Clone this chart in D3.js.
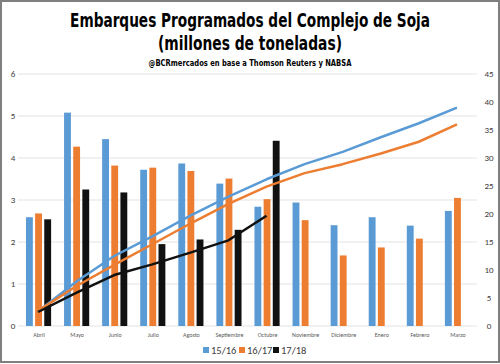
<!DOCTYPE html>
<html>
<head>
<meta charset="utf-8">
<script src="https://cdn.jsdelivr.net/npm/d3@7"></script>
<style>
  body { margin: 0; background: #fff; }
  svg { display: block; }
</style>
</head>
<body>
<svg id="chart" width="500" height="364"></svg>
<script>
// categories and series
var months = ["Abril", "Mayo", "Junio", "Julio", "Agosto", "Septiembre", "Octubre",
              "Noviembre", "Diciembre", "Enero", "Febrero", "Marzo"];
var seriesNames = ["15/16", "16/17", "17/18"];
var colors = ["#5B9BD5", "#ED7D31", "#111111"];

// monthly shipments (left axis)
var bars1516 = [2.59, 5.08, 4.45, 3.72, 3.87, 3.39, 2.84, 2.94, 2.40, 2.59, 2.39, 2.74];
var bars1617 = [2.68, 4.27, 3.82, 3.77, 3.69, 3.51, 3.02, 2.52, 1.68, 1.87, 2.08, 3.05];
var bars1718 = [2.54, 3.25, 3.18, 1.95, 2.06, 2.29, 4.41];

// accumulated shipments (right axis)
var acum1516 = [2.6, 7.9, 12.5, 16.0, 19.7, 23.1, 26.2, 28.9, 31.1, 33.7, 36.2, 39.0];
var acum1617 = [2.7, 7.1, 10.9, 14.6, 18.3, 21.8, 24.9, 27.3, 28.9, 30.8, 32.9, 36.0];
var acum1718 = [2.5, 5.9, 9.1, 11.0, 13.1, 15.3, 19.7];

var leftTicks = [0, 1, 2, 3, 4, 5, 6];
var rightTicks = [0, 5, 10, 15, 20, 25, 30, 35, 40, 45];

var plot = {left: 20, right: 477, top: 74, bottom: 326};
var titleFont = "'DejaVu Sans Condensed', 'Liberation Sans', sans-serif";
var labelFont = "Calibri, 'Liberation Sans', sans-serif";

var svg = d3.select("#chart");

// outer frame
svg.append("rect")
    .attr("x", 1).attr("y", 1)
    .attr("width", 498).attr("height", 361)
    .attr("fill", "#fff")
    .attr("stroke", "#7f7f7f")
    .attr("stroke-width", 2);

// titles: drawn at natural size then scaled horizontally to the condensed width of the original
function title(txt, yPos, size, w) {
    var t = svg.append("text")
        .attr("x", 0).attr("y", 0)
        .attr("text-anchor", "middle")
        .style("font-family", titleFont)
        .style("font-weight", "bold")
        .style("font-size", size + "px")
        .attr("fill", "#000")
        .text(txt);
    var len = t.node().getComputedTextLength();
    var k = len > 0 ? w / len : 1;
    t.attr("transform", "translate(250," + yPos + ") scale(" + k + ",1)");
}
title("Embarques Programados del Complejo de Soja", 27, 20, 360);
title("(millones de toneladas)", 50, 20, 184);
title("@BCRmercados en base a Thomson Reuters y NABSA", 66, 9.5, 203);

// scales
var x = d3.scaleBand()
    .domain(months)
    .range([plot.left, plot.right])
    .paddingInner(0.34)
    .paddingOuter(0.17);

var xs = d3.scaleBand()
    .domain(seriesNames)
    .range([0, x.bandwidth()])
    .paddingInner(0.25);

var y = d3.scaleLinear().domain([0, 6]).range([plot.bottom, plot.top]);
var y2 = d3.scaleLinear().domain([0, 45]).range([plot.bottom, plot.top]);

// gridlines
svg.append("g")
    .selectAll("line")
    .data(leftTicks)
    .enter()
    .append("line")
    .attr("x1", plot.left - 2)
    .attr("x2", plot.right)
    .attr("y1", function(d) { return y(d); })
    .attr("y2", function(d) { return y(d); })
    .attr("stroke", "#e3e3e3")
    .attr("stroke-width", 1);

// left axis
var leftAxis = svg.append("g")
    .attr("transform", "translate(" + 13 + ",0)")
    .call(d3.axisLeft(y).tickValues(leftTicks).tickFormat(d3.format("d")).tickSize(0).tickPadding(0));
leftAxis.select(".domain").remove();
leftAxis.selectAll("text")
    .attr("text-anchor", "middle")
    .style("font-family", labelFont)
    .style("font-size", "9px")
    .attr("fill", "#404040");

// right axis
var rightAxis = svg.append("g")
    .attr("transform", "translate(" + 489 + ",0)")
    .call(d3.axisRight(y2).tickValues(rightTicks).tickSize(0).tickPadding(0));
rightAxis.select(".domain").remove();
rightAxis.selectAll("text")
    .attr("text-anchor", "middle")
    .style("font-family", labelFont)
    .style("font-size", "9px")
    .attr("fill", "#404040");

// bottom category labels
var bottomAxis = svg.append("g")
    .attr("transform", "translate(0," + plot.bottom + ")")
    .call(d3.axisBottom(x).tickSize(0).tickPadding(7));
bottomAxis.select(".domain").remove();
bottomAxis.selectAll("text")
    .style("font-family", labelFont)
    .style("font-size", "6px")
    .attr("fill", "#595959");

// bars
var barSeries = [bars1516, bars1617, bars1718];
barSeries.forEach(function(vals, i) {
    svg.append("g")
        .selectAll("rect")
        .data(vals)
        .enter()
        .append("rect")
        .attr("x", function(d, j) { return x(months[j]) + xs(seriesNames[i]) - 0.5; })
        .attr("y", function(d) { return y(d); })
        .attr("width", xs.bandwidth())
        .attr("height", function(d) { return plot.bottom - y(d); })
        .attr("fill", colors[i]);
});

// accumulated lines
var line = d3.line()
    .x(function(d, j) { return x(months[j]) + x.bandwidth() / 2 - 1; })
    .y(function(d) { return y2(d); });

var lineSeries = [acum1516, acum1617, acum1718];
lineSeries.forEach(function(vals, i) {
    svg.append("path")
        .datum(vals)
        .attr("d", line)
        .attr("fill", "none")
        .attr("stroke", colors[i])
        .attr("stroke-width", 2.5)
        .attr("stroke-linejoin", "round");
});

// legend
var legendX = [203, 239, 273];
var legend = svg.append("g");
seriesNames.forEach(function(name, i) {
    legend.append("rect")
        .attr("x", legendX[i])
        .attr("y", 347)
        .attr("width", 6).attr("height", 6)
        .attr("fill", colors[i]);
    legend.append("text")
        .attr("x", legendX[i] + 8)
        .attr("y", 354)
        .style("font-family", labelFont)
        .style("font-size", "10.5px")
        .attr("fill", "#404040")
        .text(name);
});
</script>
</body>
</html>
